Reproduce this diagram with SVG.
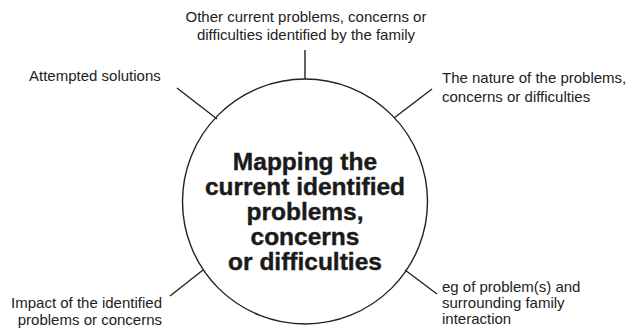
<svg xmlns="http://www.w3.org/2000/svg" width="626" height="328" viewBox="0 0 626 328">
<style>
.lbl{font-family:"Liberation Sans",Arial,sans-serif;font-size:15px;fill:#222}
.ttl{font-family:"Liberation Sans",Arial,sans-serif;font-size:24.5px;font-weight:bold;fill:#1a1a1a;text-anchor:middle;stroke:#1a1a1a;stroke-width:0.4}
.ln{stroke:#222;stroke-width:1.4;fill:none}
</style>
<rect width="626" height="328" fill="#fff"/>
<g id="connectors">
<line class="ln" x1="305" y1="50" x2="305" y2="79"/>
<line class="ln" x1="177" y1="88" x2="217" y2="119"/>
<line class="ln" x1="432" y1="89" x2="394" y2="118"/>
<line class="ln" x1="170" y1="296" x2="203" y2="270"/>
<line class="ln" x1="405" y1="270" x2="437" y2="294"/>
</g>
<g id="center">
<circle class="ln" cx="305" cy="201.5" r="122.5"/>
<text class="ttl" x="305" y="170">Mapping the</text>
<text class="ttl" x="305" y="195">current identified</text>
<text class="ttl" x="305" y="220">problems,</text>
<text class="ttl" x="305" y="245">concerns</text>
<text class="ttl" x="305" y="270">or difficulties</text>
</g>
<g id="top">
<text class="lbl" x="306" y="22" text-anchor="middle">Other current problems, concerns or</text>
<text class="lbl" x="306" y="40" text-anchor="middle">difficulties identified by the family</text>
</g>
<g id="attempted">
<text class="lbl" x="29" y="81">Attempted solutions</text>
</g>
<g id="nature">
<text class="lbl" x="442" y="83">The nature of the problems,</text>
<text class="lbl" x="442" y="102">concerns or difficulties</text>
</g>
<g id="impact">
<text class="lbl" x="162" y="308" text-anchor="end">Impact of the identified</text>
<text class="lbl" x="162" y="325" text-anchor="end">problems or concerns</text>
</g>
<g id="eg">
<text class="lbl" x="442" y="292">eg of problem(s) and</text>
<text class="lbl" x="442" y="308">surrounding family</text>
<text class="lbl" x="442" y="324">interaction</text>
</g>
</svg>
